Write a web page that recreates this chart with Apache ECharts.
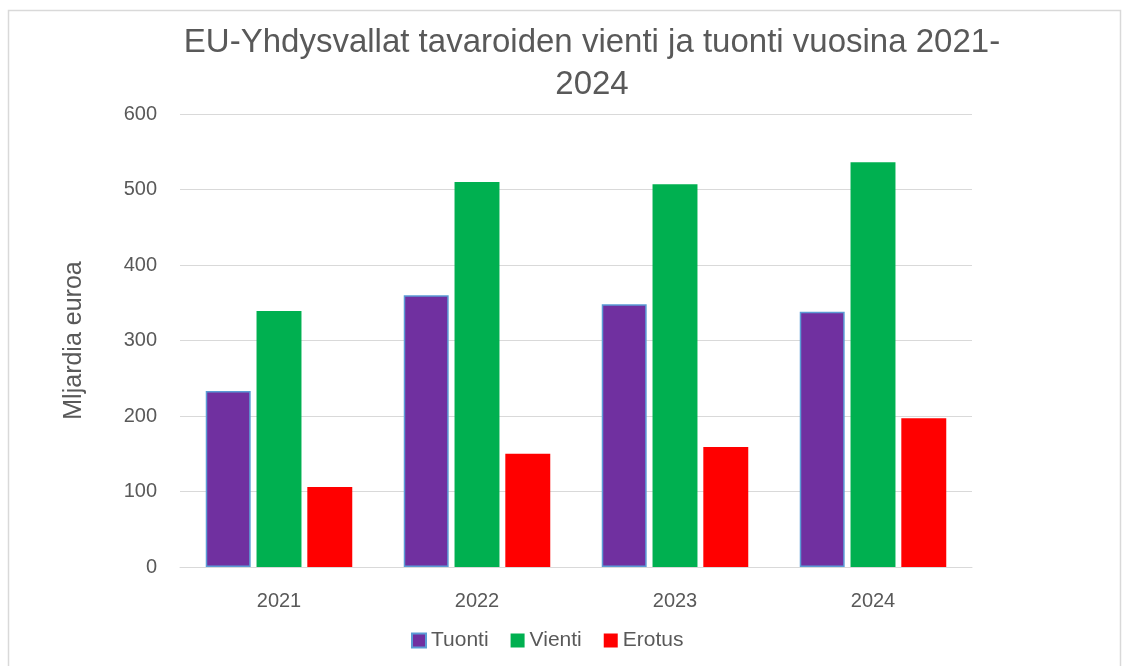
<!DOCTYPE html>
<html><head><meta charset="utf-8">
<script src="https://cdn.jsdelivr.net/npm/echarts@6/dist/echarts.min.js"></script>
<style>html,body{margin:0;padding:0;background:#fff}#c{width:1131px;height:666px}</style>
</head><body><div id="c"></div>
<script>
const categories = ['2021','2022','2023','2024'];
const tuonti = [233, 360, 348, 338];
const vienti = [339, 510, 507, 536];
const erotus = [106, 150, 159, 197];
const yTicks = [0,100,200,300,400,500,600];

const font = 'Liberation Sans';
const chart = echarts.init(document.getElementById('c'));
chart.setOption({
  animation:false,
  graphic:[{type:'rect',shape:{x:8.5,y:10.5,width:1112,height:670},style:{fill:'none',stroke:'#d9d9d9',lineWidth:1.5}}],
  title:{text:'EU-Yhdysvallat tavaroiden vienti ja tuonti vuosina 2021-\n2024',left:587,top:17,textAlign:'center',
    textStyle:{fontFamily:font,fontSize:33,fontWeight:'normal',color:'#595959',lineHeight:42}},
  legend:{bottom:10,left:406,itemWidth:14,itemHeight:14,itemGap:22,icon:'rect',
    textStyle:{fontFamily:font,fontSize:21,color:'#595959'},data:['Tuonti','Vienti','Erotus']},
  grid:{left:180,right:159,top:114,bottom:99,containLabel:false},
  xAxis:{type:'category',data:categories,axisTick:{show:false},
    axisLine:{lineStyle:{color:'#d9d9d9',width:1}},
    axisLabel:{fontFamily:font,fontSize:20,color:'#595959',margin:24}},
  yAxis:{type:'value',min:0,max:600,interval:100,name:'Mljardia euroa',nameLocation:'middle',nameGap:93,
    nameTextStyle:{fontFamily:font,fontSize:25,color:'#595959'},
    axisLine:{show:false},axisTick:{show:false},
    splitLine:{lineStyle:{color:'#d9d9d9',width:1}},
    axisLabel:{fontFamily:font,fontSize:20,color:'#595959',margin:23,formatter:v=>yTicks.includes(v)?String(v):''}},
  series:[
    {name:'Tuonti',type:'bar',data:tuonti,barGap:'13%',barCategoryGap:'26%',
      itemStyle:{color:'#7030A0',borderColor:'#5B9BD5',borderWidth:1.5}},
    {name:'Vienti',type:'bar',data:vienti,itemStyle:{color:'#00B050'}},
    {name:'Erotus',type:'bar',data:erotus,itemStyle:{color:'#FF0000'}}
  ]
});
</script></body></html>
